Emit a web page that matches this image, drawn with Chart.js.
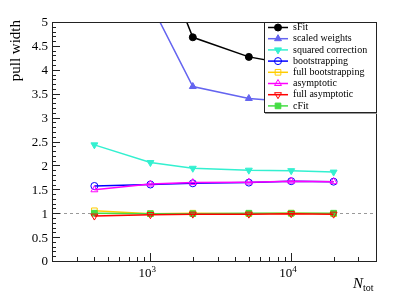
<!doctype html>
<html lang="en">
<head>
<meta charset="UTF-8">
<title>Pull width vs N_tot</title>
<script src="https://cdn.jsdelivr.net/npm/chart.js"></script>
<style>body { margin: 0; background: #fff; }</style>
</head>
<body>
<canvas id="pullChart" width="407" height="299"></canvas>
<script>
// sample sizes
const nTot = [400, 1000, 2000, 5000, 10000, 20000];

// pull widths per method (>5 are off scale)
const sFit = [8.5, 6.9, 4.68, 4.27, 4.11, 4.0];
const scaledWeights = [7.6, 5.39, 3.65, 3.40, 3.33, 3.28];
const squaredCorrection = [2.43, 2.06, 1.94, 1.90, 1.89, 1.86];
const bootstrapping = [1.57, 1.60, 1.625, 1.64, 1.67, 1.66];
const fullBootstrapping = [1.05, 0.99, 1.0, 0.99, 1.0, 0.99];
const asymptotic = [1.49, 1.61, 1.64, 1.65, 1.67, 1.66];
const fullAsymptotic = [0.94, 0.97, 0.98, 0.98, 0.99, 0.98];
const cFit = [1.0, 0.99, 0.99, 1.0, 1.0, 1.0];

const yTickLabels = ['0', '0.5', '1', '1.5', '2', '2.5', '3', '3.5', '4', '4.5', '5'];
const xDecades = [3, 4];

const serif = '"Liberation Serif", "DejaVu Serif", serif';

function series(label, values, color, style, filled, rotation, order) {
    return {
        label: label,
        data: nTot.map((n, i) => ({ x: n, y: values[i] })),
        borderColor: color,
        backgroundColor: filled ? color : 'rgba(0,0,0,0)',
        pointBackgroundColor: filled ? color : 'rgba(0,0,0,0)',
        pointBorderColor: color,
        pointStyle: style,
        pointRotation: rotation || 0,
        pointRadius: style === 'circle' ? 3.5 : 4,
        pointBorderWidth: 1,
        borderWidth: 1.5,
        showLine: true,
        fill: false,
        order: order
    };
}

const datasets = [
    series('sFit', sFit, '#000000', 'circle', true, 0, 8),
    series('scaled weights', scaledWeights, '#6464f0', 'triangle', true, 0, 7),
    series('squared correction', squaredCorrection, '#33f0d0', 'triangle', true, 180, 6),
    series('bootstrapping', bootstrapping, '#0000ff', 'circle', false, 0, 5),
    series('full bootstrapping', fullBootstrapping, '#ffcc00', 'rect', false, 0, 3),
    series('asymptotic', asymptotic, '#ff00ff', 'triangle', false, 0, 4),
    series('full asymptotic', fullAsymptotic, '#ff0000', 'triangle', false, 180, 0),
    series('cFit', cFit, '#44dd44', 'rect', true, 0, 1)
];

// ROOT-like frame, inward ticks, labels and legend box
const rootFrame = {
    id: 'rootFrame',
    beforeDatasetsDraw(chart) {
        const { ctx, chartArea: a, scales: { y } } = chart;
        const yOne = Math.round(y.getPixelForValue(1)) + 0.5;
        ctx.save();
        ctx.strokeStyle = '#999';
        ctx.lineWidth = 1;
        ctx.setLineDash([3, 3]);
        ctx.beginPath();
        ctx.moveTo(a.left, yOne);
        ctx.lineTo(a.right, yOne);
        ctx.stroke();
        ctx.restore();
    },
    afterDatasetsDraw(chart) {
        const { ctx, chartArea: a, scales: { x, y } } = chart;
        ctx.save();
        ctx.strokeStyle = '#222';
        ctx.lineWidth = 1;
        ctx.strokeRect(Math.round(a.left) + 0.5, Math.round(a.top) + 0.5,
            Math.round(a.right - a.left), Math.round(a.bottom - a.top));

        // y ticks
        ctx.beginPath();
        for (let i = 0; i <= 50; i++) {
            const py = Math.round(y.getPixelForValue(i / 10)) + 0.5;
            const len = i % 5 === 0 ? 8 : 4;
            ctx.moveTo(a.left, py);
            ctx.lineTo(a.left + len, py);
        }
        // x ticks (log)
        for (let d = 2; d <= 4; d++) {
            for (let m = 1; m <= 9; m++) {
                const v = m * Math.pow(10, d);
                if (v < x.min || v > x.max) continue;
                const px = Math.round(x.getPixelForValue(v)) + 0.5;
                const len = m === 1 ? 8 : 4;
                ctx.moveTo(px, a.bottom);
                ctx.lineTo(px, a.bottom - len);
            }
        }
        ctx.stroke();

        // y tick labels
        ctx.fillStyle = '#000';
        ctx.font = '13px ' + serif;
        ctx.textAlign = 'right';
        ctx.textBaseline = 'middle';
        yTickLabels.forEach((t, i) => {
            ctx.fillText(t, a.left - 4, y.getPixelForValue(i * 0.5) + 1);
        });

        // x tick labels 10^n
        xDecades.forEach(d => {
            const px = x.getPixelForValue(Math.pow(10, d));
            ctx.font = '13px ' + serif;
            ctx.textAlign = 'right';
            ctx.textBaseline = 'alphabetic';
            ctx.fillText('10', px + 1, a.bottom + 16);
            ctx.font = '9px ' + serif;
            ctx.textAlign = 'left';
            ctx.fillText(String(d), px + 1, a.bottom + 11);
        });

        // axis titles
        ctx.font = 'italic 15px ' + serif;
        ctx.textAlign = 'right';
        ctx.fillText('N', a.right - 13, a.bottom + 27);
        ctx.font = '10px ' + serif;
        ctx.textAlign = 'left';
        ctx.fillText('tot', a.right - 13, a.bottom + 30);

        ctx.save();
        ctx.translate(20, a.top - 2);
        ctx.rotate(-Math.PI / 2);
        ctx.font = '15px ' + serif;
        ctx.textAlign = 'right';
        ctx.textBaseline = 'alphabetic';
        ctx.fillText('pull width', 0, 0);
        ctx.restore();

        // legend
        const lx = 264, ly = Math.round(a.top), lw = Math.round(a.right) - lx, lh = 90;
        ctx.fillStyle = '#fff';
        ctx.fillRect(lx, ly, lw, lh);
        ctx.fillStyle = '#999';
        ctx.fillRect(lx + 1, ly + lh, lw, 2);
        ctx.strokeStyle = '#222';
        ctx.strokeRect(lx + 0.5, ly + 0.5, lw, lh);
        datasets.forEach((ds, i) => {
            const ry = ly + 5.5 + i * 11.2;
            ctx.strokeStyle = ds.borderColor;
            ctx.lineWidth = 1.5;
            ctx.beginPath();
            ctx.moveTo(lx + 4, ry);
            ctx.lineTo(lx + 24, ry);
            ctx.stroke();
            ctx.fillStyle = ds.pointBackgroundColor;
            ctx.lineWidth = 1;
            Chart.helpers.drawPoint(ctx, {
                pointStyle: ds.pointStyle,
                rotation: ds.pointRotation,
                radius: ds.pointRadius,
                borderWidth: 1
            }, lx + 14, ry);
            ctx.fillStyle = '#000';
            ctx.font = '10px ' + serif;
            ctx.textAlign = 'left';
            ctx.textBaseline = 'middle';
            ctx.fillText(ds.label, lx + 29, ry);
        });
        ctx.restore();
    }
};

new Chart(document.getElementById('pullChart'), {
    type: 'scatter',
    data: { datasets: datasets },
    options: {
        responsive: false,
        animation: false,
        layout: { padding: { left: 52, right: 31, top: 22, bottom: 38 } },
        plugins: { legend: { display: false }, tooltip: { enabled: false } },
        scales: {
            x: { type: 'logarithmic', min: 200, max: 40000, display: false },
            y: { type: 'linear', min: 0, max: 5, display: false }
        }
    },
    plugins: [rootFrame]
});
</script>
</body>
</html>
